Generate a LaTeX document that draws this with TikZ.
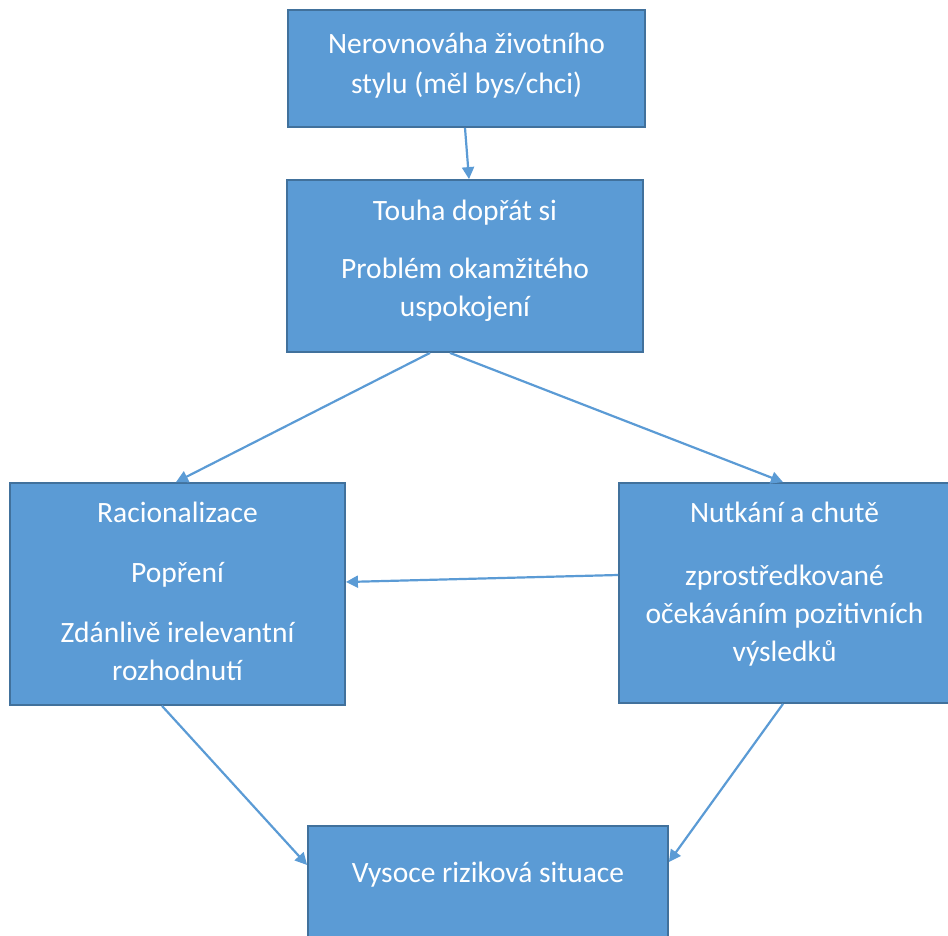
\documentclass[tikz,border=0pt]{standalone}
\usepackage{fontspec}
\setmainfont{Carlito}
\usetikzlibrary{arrows.meta, positioning, calc}
\definecolor{BoxFill}{HTML}{5B9BD5}
\definecolor{BoxInk}{HTML}{41719C}
\definecolor{LinkInk}{HTML}{5B9BD5}

\begin{document}
\begin{tikzpicture}[x=1pt, y=-1pt,
  box/.style={draw=BoxInk, fill=BoxFill, line width=1.8pt, inner sep=0pt},
  boxtext/.style={text=white, align=center, inner sep=0pt, anchor=north,
    font=\fontsize{29.5}{38}\selectfont},
  link/.style={-{Triangle[length=12pt, width=12pt]}, LinkInk, line width=2.2pt}]
\useasboundingbox (0,0) rectangle (948,936);
% boxes
\node[box, minimum width=357pt, minimum height=117pt] (nerov) at (466.5,68.5) {};
\node[box, minimum width=356pt, minimum height=172pt] (touha) at (465,266) {};
\node[box, minimum width=335pt, minimum height=222pt] (racio) at (177.5,594) {};
\node[box, minimum width=331pt, minimum height=220pt] (nutkani) at (784.5,593) {};
\node[box, minimum width=360pt, minimum height=124pt] (situace) at (488,888) {};
% texts
\node[boxtext, font=\fontsize{29.5}{40}\selectfont] (nerovT) at ([yshift=-24pt]nerov.north)
  {Nerovnováha životního\\stylu (měl bys/chci)};
\node[boxtext] (touhaT) at ([yshift=-21pt]touha.north)
  {Touha dopřát si\\[20pt]Problém okamžitého\\uspokojení};
\node[boxtext] (racioT) at ([yshift=-20pt]racio.north)
  {Racionalizace\\[22pt]Popření\\[22pt]Zdánlivě irelevantní\\rozhodnutí};
\node[boxtext] (nutkaniT) at ([yshift=-20pt]nutkani.north)
  {Nutkání a chutě\\[25pt]zprostředkované\\očekáváním pozitivních\\výsledků};
\node[boxtext] (situaceT) at ([yshift=-37pt]situace.north)
  {Vysoce riziková situace};
% links
\draw[link] ([xshift=-1.5pt]nerov.south) -- ([xshift=4pt]touha.north);
\draw[link] ([xshift=-35pt]touha.south) -- ([xshift=-1.5pt]racio.north);
\draw[link] ([xshift=-15pt]touha.south) -- ([xshift=-1.5pt]nutkani.north);
\draw[link] ([yshift=18pt]nutkani.west) -- ([yshift=12pt]racio.east);
\draw[link] ([xshift=-15.5pt]racio.south) -- ([yshift=23pt]situace.west);
\draw[link] ([xshift=-1.5pt]nutkani.south) -- ([yshift=26pt]situace.east);
\end{tikzpicture}
\end{document}
